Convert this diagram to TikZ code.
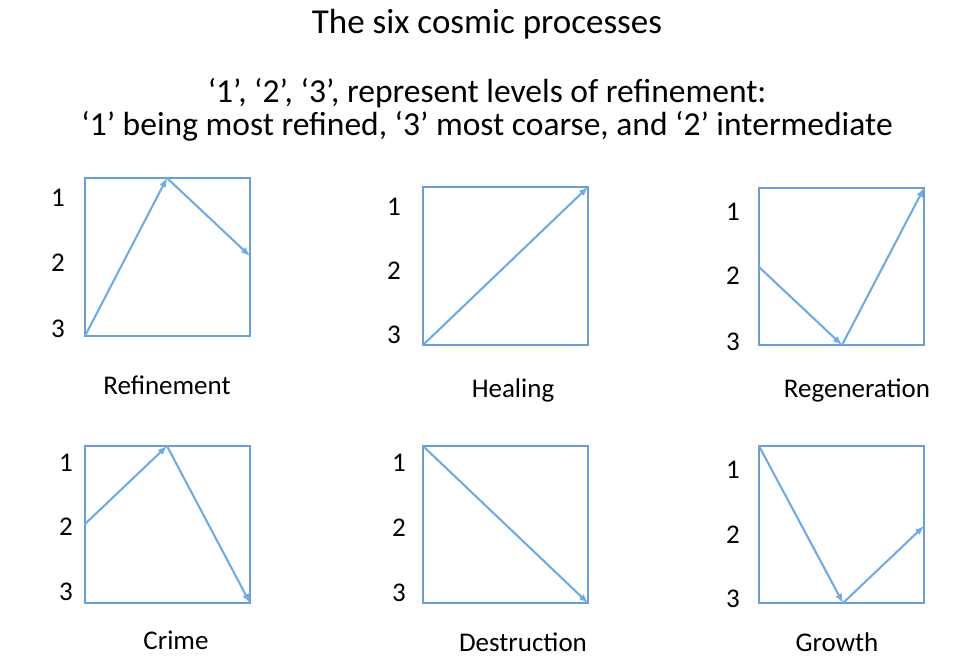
\documentclass[tikz,border=0pt]{standalone}
\usepackage{fontspec}
\setmainfont{Carlito}
\definecolor{boxblue}{RGB}{108,158,210}
\definecolor{arrowblue}{RGB}{112,172,226}
\tikzset{>=latex}
% box of one process: name, left, top, right, bottom
\newcommand\procbox[5]{
    \draw[boxblue,line width=1.8pt] (#2,#3) rectangle (#4,#5);
    \coordinate (#1-nw) at (#2,#3);
    \coordinate (#1-se) at (#4,#5);
}
% the three levels beside a box: name, x, y of 1, 2, 3
\newcommand\levels[5]{
    \node[lvl] (#1-1) at (#2,#3) {1};
    \node[lvl] (#1-2) at (#2,#4) {2};
    \node[lvl] (#1-3) at (#2,#5) {3};
}

\begin{document}
\begin{tikzpicture}[x=1pt,y=-1pt,
        lvl/.style={font=\fontsize{27}{30}\selectfont},
        caption/.style={font=\fontsize{27}{30}\selectfont},
        move/.style={arrowblue,line width=2.1pt,->}]
    \useasboundingbox (0,0) rectangle (974,662);
    \node[font=\fontsize{35}{40}\selectfont] (title) at (487,24) {The six cosmic processes};
    \node[font=\fontsize{33.5}{33}\selectfont,align=center] (sub) at (487,110)
        {‘1’, ‘2’, ‘3’, represent levels of refinement:\\
         ‘1’ being most refined, ‘3’ most coarse, and ‘2’ intermediate};

    % Refinement
    \procbox{ref}{85}{178}{250}{336}
    \levels{ref}{58}{198}{263}{329}
    \coordinate (ref-a) at (85,336);
    \coordinate (ref-b) at (167,178);
    \coordinate (ref-c) at (250,256);
    \draw[move] (ref-a) -- (ref-b);
    \draw[move] (ref-b) -- (ref-c);
    \node[caption] (ref-name) at (167,385) {Refinement};

    % Healing
    \procbox{hea}{423}{187}{588}{345}
    \levels{hea}{394}{207}{271}{335}
    \coordinate (hea-a) at (423,345);
    \coordinate (hea-b) at (588,187);
    \draw[move] (hea-a) -- (hea-b);
    \node[caption] (hea-name) at (513,390) {Healing};

    % Regeneration
    \procbox{reg}{759}{188}{924}{345}
    \levels{reg}{733}{212}{276}{342}
    \coordinate (reg-a) at (759,267);
    \coordinate (reg-b) at (842,345);
    \coordinate (reg-c) at (924,188);
    \draw[move] (reg-a) -- (reg-b);
    \draw[move] (reg-b) -- (reg-c);
    \node[caption] (reg-name) at (857,390) {Regeneration};

    % Crime
    \procbox{cri}{85}{446}{250}{603}
    \levels{cri}{66}{463}{527}{592}
    \coordinate (cri-a) at (85,524);
    \coordinate (cri-b) at (167,446);
    \coordinate (cri-c) at (250,603);
    \draw[move] (cri-a) -- (cri-b);
    \draw[move] (cri-b) -- (cri-c);
    \node[caption] (cri-name) at (176,640) {Crime};

    % Destruction
    \procbox{des}{423}{446}{588}{603}
    \levels{des}{399}{463}{528}{593}
    \coordinate (des-a) at (423,446);
    \coordinate (des-b) at (588,603);
    \draw[move] (des-a) -- (des-b);
    \node[caption] (des-name) at (523,642) {Destruction};

    % Growth
    \procbox{gro}{759}{446}{924}{603}
    \levels{gro}{733}{470}{535}{599}
    \coordinate (gro-a) at (759,446);
    \coordinate (gro-b) at (843,603);
    \coordinate (gro-c) at (924,526);
    \draw[move] (gro-a) -- (gro-b);
    \draw[move] (gro-b) -- (gro-c);
    \node[caption] (gro-name) at (837,642) {Growth};
\end{tikzpicture}
\end{document}
